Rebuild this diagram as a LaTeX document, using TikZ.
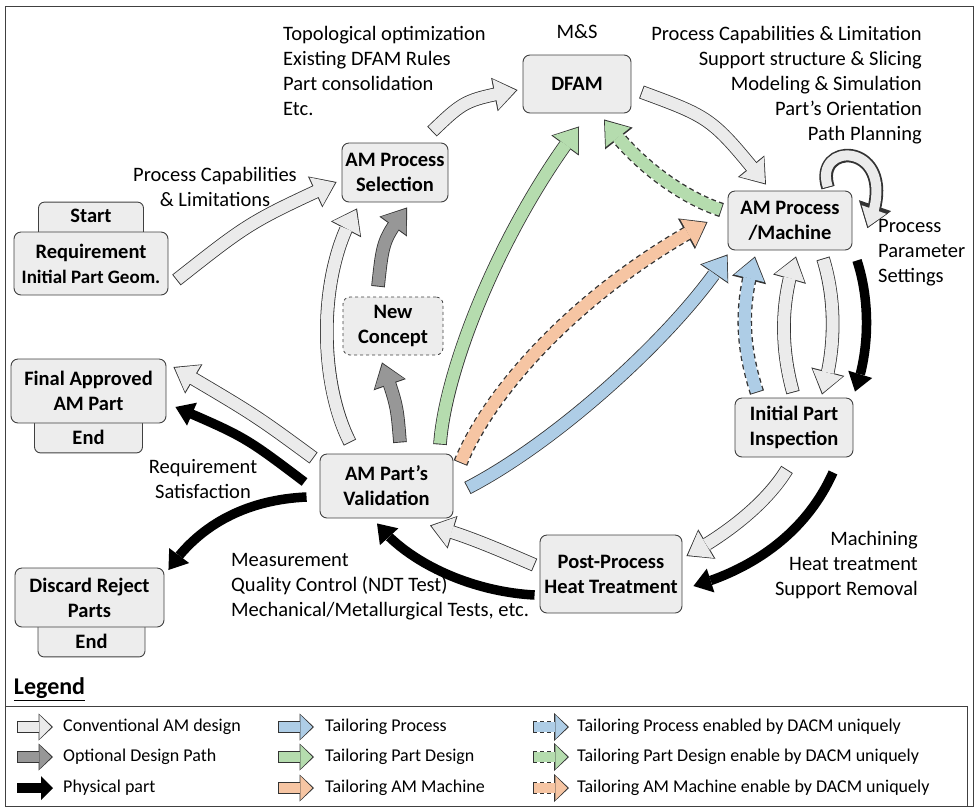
\documentclass[tikz,border=0pt]{standalone}
\usepackage{fontspec}
\setmainfont{Carlito}
\usepackage{tikz}
\usetikzlibrary{positioning}
\usetikzlibrary{arrows.meta}
\usetikzlibrary{bending}
\usetikzlibrary{calc}
\usetikzlibrary{backgrounds}
\definecolor{boxgray}{HTML}{EDEDED}
\definecolor{convgray}{HTML}{EBEBEB}
\definecolor{optgray}{HTML}{979797}
\definecolor{procblue}{HTML}{AECDE6}
\definecolor{partgreen}{HTML}{B5DCAE}
\definecolor{machorange}{HTML}{F6C5A3}
\newcommand{\labelsize}{\fontsize{20.5}{25}\selectfont}
\newcommand{\legendsize}{\fontsize{18}{22}\selectfont}
\tikzset{
  % A stage of the AM design flow
  stage/.style={
    draw=black!75, fill=boxgray, rounded corners=7pt, line width=0.9pt,
    align=center, font=\labelsize\bfseries, inner sep=2pt},
  % Start / End tab tucked behind a stage
  tabbox/.style={
    draw=black!75, fill=boxgray, rounded corners=6pt, line width=0.9pt,
    font=\labelsize\bfseries, inner ysep=0pt},
  starttab/.style={tabbox, text height=20pt, text depth=17pt},
  endtab/.style={tabbox, text height=28.5pt, text depth=8.5pt},
  % Free text next to the flow
  note/.style={font=\labelsize, inner sep=0pt},
  legnote/.style={font=\legendsize, inner sep=0pt, anchor=west},
  frame/.style={draw=black!75, line width=1pt},
  % Block arrow: shaft, head width, head length | rim shaft, rim head width, rim head length | rim dashes
  fat/.style n args={7}{
    line width=#1, shorten <=0.9pt, shorten >=1.6pt,
    -{Triangle[width=#2, length=#3, line width=0pt]},
    preaction={draw=black!80, #7, line width=#4, shorten <=0pt, shorten >=0pt,
      -{Triangle[width=#5, length=#6, line width=0pt]}}},
  bigfat/.style={fat={12pt}{31pt}{21pt}{13.6pt}{34pt}{23.6pt}{solid}},
  bigdash/.style={fat={12pt}{31pt}{21pt}{14.6pt}{35pt}{24.2pt}{dash pattern=on 5pt off 3.5pt}},
  loopfat/.style={fat={10pt}{26pt}{18pt}{11.6pt}{29pt}{20.6pt}{solid}},
  legfat/.style={fat={10pt}{24pt}{12pt}{11.6pt}{27pt}{14.4pt}{solid}},
  legdash/.style={fat={10pt}{24pt}{12pt}{12.4pt}{28pt}{15pt}{dash pattern=on 4pt off 3pt}},
  % Arrow kinds of the legend
  conv/.style={bigfat, draw=convgray},
  optpath/.style={bigfat, draw=optgray},
  tailproc/.style={bigfat, draw=procblue},
  tailpart/.style={bigfat, draw=partgreen},
  tailmach/.style={bigfat, draw=machorange},
  uniqproc/.style={bigdash, draw=procblue},
  uniqpart/.style={bigdash, draw=partgreen},
  uniqmach/.style={bigdash, draw=machorange},
  phys/.style={draw=black, line width=9.5pt,
    -{Triangle[width=25pt, length=18pt, line width=0pt]}},
  legphys/.style={draw=black, line width=10pt,
    -{Triangle[width=24pt, length=12pt, line width=0pt]}},
}
\begin{document}
\begin{tikzpicture}[x=1pt, y=-1pt]
\useasboundingbox (0,0) rectangle (975,807);
\draw[frame] (5,6) rectangle (973,806);

% stages
\node[stage, minimum width=154pt, minimum height=63pt] (req) at (91,263.5)
  {Requirement\\{\fontsize{19}{25}\selectfont Initial Part Geom.}};
\node[stage, minimum width=106pt, minimum height=59pt] (sel) at (395,172.5) {AM Process\\Selection};
\node[stage, minimum width=108pt, minimum height=58pt] (dfam) at (577,84) {DFAM};
\node[stage, minimum width=124pt, minimum height=59pt] (mach) at (790,220.5) {AM Process\\/Machine};
\node[stage, dashed, line width=0.8pt, minimum width=100pt, minimum height=58pt] (newc) at (393,326) {New\\Concept};
\node[stage, minimum width=155pt, minimum height=64pt] (final) at (88.5,391) {Final Approved\\AM Part};
\node[stage, minimum width=149pt, minimum height=59pt] (disc) at (89.5,597.5) {Discard Reject\\Parts};
\node[stage, minimum width=133pt, minimum height=64pt] (val) at (386.5,486) {AM Part’s\\Validation};
\node[stage, minimum width=142pt, minimum height=78pt] (post) at (611,574) {Post-Process\\Heat Treatment};
\node[stage, minimum width=118pt, minimum height=59pt] (insp) at (794,427.5) {Initial Part\\Inspection};

\begin{scope}[on background layer]
  \node[starttab, above=-8pt of req, minimum width=105pt] (start) {Start};
  \node[endtab, below=-8pt of final, minimum width=108pt] (finalend) {End};
  \node[endtab, below=-8pt of disc, minimum width=107pt, xshift=2pt] (discend) {End};
\end{scope}

% notes
\node[note, anchor=north west, align=left] (dfamnote) at (283,26.5)
  {Topological optimization\\Existing DFAM Rules\\Part consolidation\\Etc.};
\node[note] (msnote) at (577,32) {M\&S};
\node[note, anchor=north east, align=right] (machnote) at (922,26.5)
  {Process Capabilities \& Limitation\\Support structure \& Slicing\\Modeling \& Simulation\\Part’s Orientation\\Path Planning};
\node[note, anchor=north, align=center] (capnote) at (215,167.5) {Process Capabilities\\\& Limitations};
\node[note, anchor=north west, align=left] (paramnote) at (878,219.5) {Process\\Parameter\\Settings};
\node[note, anchor=north, align=center] (reqnote) at (203,459.5) {Requirement\\Satisfaction};
\node[note, anchor=north west, align=left] (measnote) at (231,553.5)
  {Measurement\\Quality Control (NDT Test)\\Mechanical/Metallurgical Tests, etc.};
\node[note, anchor=north east, align=right] (postnote) at (918,531.5) {Machining\\Heat treatment\\Support Removal};

% conventional flow
\draw[conv] ($(req.east)+(8,16.5)$) .. controls (250,222) .. ($(sel.west)+(-5,9.5)$);
\draw[conv] ($(sel.north)+(37,-11)$) .. controls (465,100) .. ($(dfam.west)+(-5,6)$);
\draw[conv] ($(dfam.east)+(10,8)$) .. controls (712,118) .. ($(mach.north)+(-24,-6)$);
\draw[conv, loopfat] ($(mach.north)+(38,-3)$) .. controls (812,138) and (905,142) .. ($(mach.east)+(15,7.5)$);
\draw[conv] ($(mach.south)+(33,8)$) .. controls (836,300) and (836,350) .. ($(insp.north)+(28,-3)$);
\draw[conv] ($(insp.north)+(-1,-5)$) .. controls (780,345) and (781,300) .. ($(mach.south)+(6,6)$);
\draw[conv] ($(insp.south)+(-7,12)$) .. controls (765,505) and (725,535) .. ($(post.east)+(4,-18)$);
\draw[conv] ($(post.west)+(-5,-9)$) .. controls (495,548) and (465,535) .. ($(val.south)+(43.5,7)$);
\draw[conv] ($(val.north)+(-36.5,-11)$) .. controls (318,380) and (318,270) .. ($(sel.south)+(-38,6)$);
\draw[conv] ($(val.west)+(-6,-28)$) .. controls (255,415) .. ($(final.east)+(7,-24)$);

% optional design path
\draw[optpath] ($(val.north)+(13.5,-11)$) .. controls (397,405) .. ($(newc.south)+(-11,7)$);
\draw[optpath] ($(newc.north)+(-15,-10)$) .. controls (383,240) .. ($(sel.south)+(12,5)$);

% tailoring
\draw[tailpart] ($(val.north)+(53.5,-9)$) .. controls (445,370) and (500,230) .. ($(dfam.south)+(2,13)$);
\draw[uniqpart] ($(mach.west)+(-6,-10.5)$) .. controls (690,200) and (640,170) .. ($(dfam.south)+(27,6)$);
\draw[uniqmach] ($(val.east)+(7,-23)$) .. controls (490,390) and (580,290) .. ($(mach.west)+(-20,1.5)$);
\draw[tailproc] ($(val.east)+(14,2)$) .. controls (560,440) and (680,330) .. ($(mach.south west)+(0,4)$);
\draw[uniqproc] ($(insp.north)+(-37,-5)$) .. controls (740,340) and (742,300) .. ($(mach.south)+(-35,6)$);

% physical part
\draw[phys] ($(mach.south)+(67,10)$) .. controls (870,300) and (870,350) .. ($(insp.north)+(61,-6)$);
\draw[phys] ($(insp.south)+(39,15)$) .. controls (805,535) and (750,570) .. ($(post.east)+(11,12)$);
\draw[phys] ($(post.west)+(-5,21)$) .. controls (475,592) and (410,565) .. ($(val.south)+(-9.5,5)$);
\draw[phys] ($(val.west)+(-15,-4)$) .. controls (245,437) .. ($(final.east)+(9,16)$);
\draw[phys] ($(val.west)+(-13,11)$) .. controls (240,500) and (195,530) .. ($(disc.east)+(4,-27.5)$);

% legend
\node[font=\fontsize{24}{28}\selectfont\bfseries, inner sep=0pt] (legtitle) at (49.5,689) {\underline{Legend}};
\draw[frame] (5,706) rectangle (967,806);
\node[legnote] (lgconv) at (63,727) {Conventional AM design};
\node[legnote] (lgopt) at (63,757) {Optional Design Path};
\node[legnote] (lgphys) at (63,788) {Physical part};
\node[legnote] (lgproc) at (325,727) {Tailoring Process};
\node[legnote] (lgpart) at (325,757) {Tailoring Part Design};
\node[legnote] (lgmach) at (325,788) {Tailoring AM Machine};
\node[legnote] (lguproc) at (577,727) {Tailoring Process enabled by DACM uniquely};
\node[legnote] (lgupart) at (577,757) {Tailoring Part Design enable by DACM uniquely};
\node[legnote] (lgumach) at (577,788) {Tailoring AM Machine enable by DACM uniquely};

\draw[legfat, draw=convgray] ($(lgconv.west)+(-46,0)$) -- ($(lgconv.west)+(-10,0)$);
\draw[legfat, draw=optgray] ($(lgopt.west)+(-46,0)$) -- ($(lgopt.west)+(-10,0)$);
\draw[legphys] ($(lgphys.west)+(-46,0)$) -- ($(lgphys.west)+(-10,0)$);
\draw[legfat, draw=procblue] ($(lgproc.west)+(-47,0)$) -- ($(lgproc.west)+(-11,0)$);
\draw[legfat, draw=partgreen] ($(lgpart.west)+(-47,0)$) -- ($(lgpart.west)+(-11,0)$);
\draw[legfat, draw=machorange] ($(lgmach.west)+(-47,0)$) -- ($(lgmach.west)+(-11,0)$);
\draw[legdash, draw=procblue] ($(lguproc.west)+(-44,0)$) -- ($(lguproc.west)+(-8,0)$);
\draw[legdash, draw=partgreen] ($(lgupart.west)+(-44,0)$) -- ($(lgupart.west)+(-8,0)$);
\draw[legdash, draw=machorange] ($(lgumach.west)+(-44,0)$) -- ($(lgumach.west)+(-8,0)$);
\end{tikzpicture}
\end{document}
